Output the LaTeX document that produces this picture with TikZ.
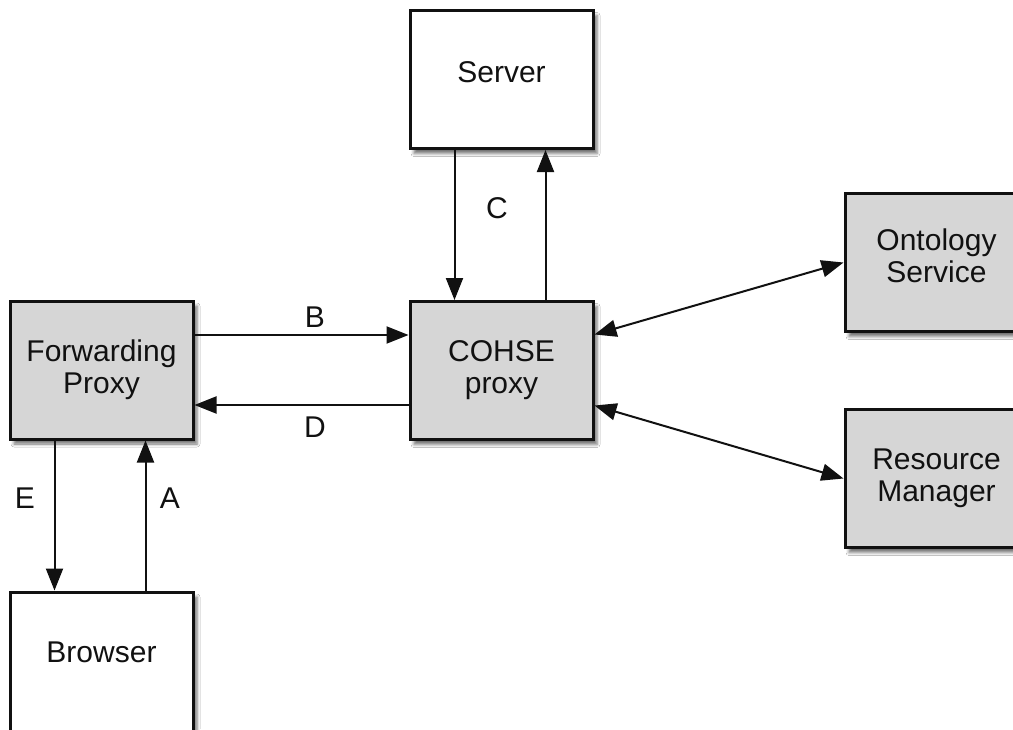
\documentclass[tikz,border=0pt]{standalone}
\usepackage{fontspec}
\setmainfont{Liberation Sans}
\usetikzlibrary{arrows.meta,calc,shadows.blur}
\definecolor{boxgray}{HTML}{D6D6D6}
\definecolor{ink}{HTML}{111111}
\begin{document}
\begin{tikzpicture}[x=1pt,y=-1pt,
  box/.style={draw=ink, line width=3pt, minimum width=183pt, minimum height=138pt,
    align=center, font=\fontsize{30}{32}\selectfont, text=ink,
    blur shadow={shadow xshift=4pt, shadow yshift=-5pt, shadow blur radius=3pt, shadow opacity=55}},
  white box/.style={box, fill=white},
  gray box/.style={box, fill=boxgray},
  tip/.style={Triangle[length=22pt,width=17pt]},
  arr/.style={draw=ink, line width=2pt, -{Triangle[length=22pt,width=17pt]}},
  biarr/.style={draw=ink, line width=2pt, {Triangle[length=22pt,width=17pt]}-{Triangle[length=22pt,width=17pt]}},
  lbl/.style={font=\fontsize{30}{32}\selectfont, text=ink, inner sep=0pt}]
\useasboundingbox (0,0) rectangle (1013,729);
\clip (0,0) rectangle (1013,729);
\fill[white] (0,0) rectangle (1013,729);

% components
\node[white box, text depth=14pt] (server) at (501.5,79.5)  {Server};
\node[gray box]  (cohse)    at (501.5,370.5) {COHSE\\proxy};
\node[gray box]  (fwd)      at (101.5,370)   {Forwarding\\Proxy};
\node[white box, minimum height=150pt, text depth=30pt] (browser) at (101.5,667) {Browser};
\node[gray box, text depth=14pt] (onto) at (936.5,262.5) {Ontology\\Service};
\node[gray box]  (resource) at (936.5,478.5) {Resource\\Manager};

% request / response flow
\draw[arr] ($(server.south west)+(46,0)$) -- ($(cohse.north west)+(46,0)$);
\draw[arr] ($(cohse.north west)+(137,0)$) -- ($(server.south west)+(137,0)$);
\draw[arr] ($(fwd.east)+(0,-35)$) -- ($(cohse.west)+(0,-35.5)$);
\draw[arr] ($(cohse.west)+(0,34.5)$) -- ($(fwd.east)+(0,35)$);
\draw[arr] ($(fwd.south west)+(46,0)$) -- ($(browser.north west)+(46,0)$);
\draw[arr] ($(browser.north west)+(137,0)$) -- ($(fwd.south west)+(137,0)$);

% services used by the COHSE proxy
\draw[biarr] ($(cohse.east)+(0,-36)$) -- (onto.west);
\draw[biarr] ($(cohse.east)+(0,35)$) -- (resource.west);

% flow labels
\node[lbl] (lA) at (170,498) {A};
\node[lbl] (lB) at (315,317) {B};
\node[lbl] (lC) at (497,208) {C};
\node[lbl] (lD) at (315,427) {D};
\node[lbl] (lE) at (25,498)  {E};
\end{tikzpicture}
\end{document}
